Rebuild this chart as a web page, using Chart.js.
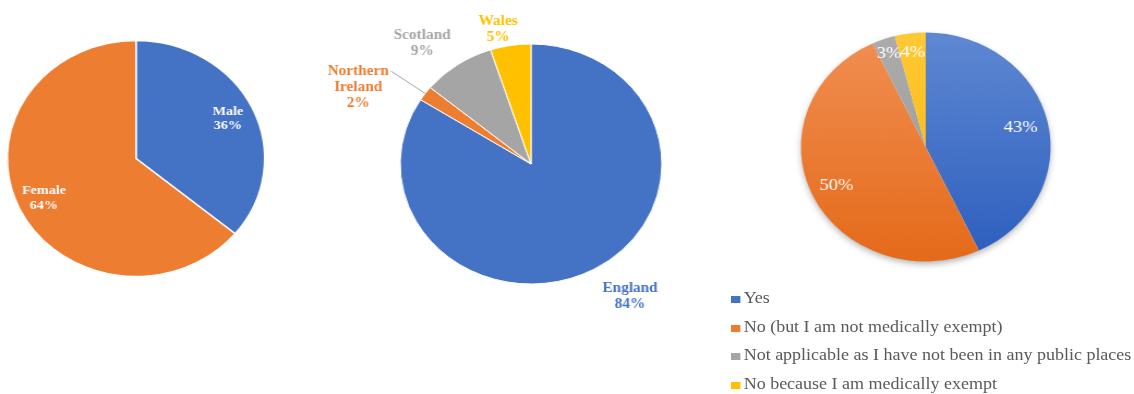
<!DOCTYPE html>
<html>
<head>
<meta charset="utf-8">
<script src="https://cdn.jsdelivr.net/npm/chart.js@4.4.1/dist/chart.umd.min.js"></script>
<style>
  html, body { margin: 0; padding: 0; background: #fff; overflow: hidden; }
  #stage { position: relative; width: 1040px; height: 394px; transform: scaleX(1.0904); transform-origin: 0 0; }
  #stage canvas { position: absolute; left: 0; top: 0; }
  #legend { position: absolute; left: 670px; top: 284px; font-family: "Liberation Serif", "Times New Roman", serif; font-size: 16.5px; color: #595959; }
  #legend div { height: 28.5px; line-height: 28.5px; white-space: nowrap; }
  #legend span { display: inline-block; width: 9px; height: 7px; margin-right: 3px; vertical-align: 0px; }
</style>
</head>
<body>
<div id="stage">
  <canvas id="genderChart" width="1040" height="394"></canvas>
  <canvas id="nationChart" width="1040" height="394"></canvas>
  <canvas id="maskChart" width="1040" height="394"></canvas>
  <div id="legend"></div>
</div>
<script>
const genderLabels = ['Male', 'Female'];
const genderValues = [36, 64];

const nationLabels = ['England', 'Northern Ireland', 'Scotland', 'Wales'];
const nationValues = [84, 2, 9, 5];

const maskLabels = [
  'Yes',
  'No (but I am not medically exempt)',
  'Not applicable as I have not been in any public places',
  'No because I am medically exempt'
];
const maskValues = [43, 50, 3, 4];

const palette = ['#4472C4', '#ED7D31', '#A5A5A5', '#FFC000'];
const gradTop = ['#5f88d2', '#f18f53', '#acacac', '#ffc936'];
const gradBottom = ['#2c5ebe', '#e56a1a', '#979797', '#f4b600'];

const STAGE_W = 1040, STAGE_H = 394;

// pad the chart area so the pie sits centred on (cx, cy)
function centredPadding(cx, cy) {
  return {
    left: cx > STAGE_W / 2 ? 2 * cx - STAGE_W : 0,
    right: cx < STAGE_W / 2 ? STAGE_W - 2 * cx : 0,
    top: cy > STAGE_H / 2 ? 2 * cy - STAGE_H : 0,
    bottom: cy < STAGE_H / 2 ? STAGE_H - 2 * cy : 0
  };
}

const pick = (v, i) => Array.isArray(v) ? v[i] : v;

// percentage (and optional name) labels placed along each slice's mid angle
const sliceLabels = {
  id: 'sliceLabels',
  afterDatasetsDraw(chart, args, opts) {
    const ctx = chart.ctx;
    const meta = chart.getDatasetMeta(0);
    const values = chart.data.datasets[0].data;
    const total = values.reduce((a, b) => a + b, 0);
    ctx.save();
    ctx.font = opts.font;
    ctx.textAlign = 'center';
    ctx.textBaseline = 'middle';
    meta.data.forEach((arc, i) => {
      const { x, y, startAngle, endAngle, outerRadius } = arc.getProps(['x', 'y', 'startAngle', 'endAngle', 'outerRadius'], true);
      const mid = (startAngle + endAngle) / 2;
      const r = outerRadius * pick(opts.radius, i);
      const shift = (opts.shift && opts.shift[i]) || [0, 0];
      const px = x + Math.cos(mid) * r + shift[0];
      const py = y + Math.sin(mid) * r + shift[1];
      const lines = opts.showName ? chart.data.labels[i].split(' ') : [];
      lines.push(Math.round(values[i] / total * 100) + '%');
      const lh = opts.lineHeight;
      const y0 = py - (lines.length - 1) / 2 * lh;
      ctx.fillStyle = pick(opts.color, i);
      lines.forEach((t, k) => ctx.fillText(t, px, y0 + k * lh));
      if (opts.leader && opts.leader[i]) {
        const w = ctx.measureText(lines[0]).width;
        ctx.strokeStyle = '#A5A5A5';
        ctx.lineWidth = 1;
        ctx.beginPath();
        ctx.moveTo(px + w / 2 + 2, y0);
        ctx.lineTo(x + Math.cos(mid) * outerRadius, y + Math.sin(mid) * outerRadius);
        ctx.stroke();
      }
    });
    ctx.restore();
  }
};

// soft drop shadow behind the whole pie
const pieShadow = {
  id: 'pieShadow',
  beforeDatasetsDraw(chart) {
    const arc = chart.getDatasetMeta(0).data[0];
    if (!arc) return;
    const ctx = chart.ctx;
    ctx.save();
    ctx.shadowColor = 'rgba(0, 0, 0, 0.35)';
    ctx.shadowBlur = 7;
    ctx.shadowOffsetY = 3;
    ctx.beginPath();
    ctx.arc(arc.x, arc.y, arc.outerRadius - 1, 0, Math.PI * 2);
    ctx.fillStyle = '#fff';
    ctx.fill();
    ctx.restore();
  }
};

function pieOptions(cx, cy, radius, labelOpts) {
  return {
    responsive: false,
    animation: false,
    events: [],
    radius: radius,
    layout: { padding: centredPadding(cx, cy) },
    plugins: {
      legend: { display: false },
      tooltip: { enabled: false },
      sliceLabels: labelOpts
    }
  };
}

new Chart(document.getElementById('genderChart'), {
  type: 'pie',
  data: {
    labels: genderLabels,
    datasets: [{ data: genderValues, backgroundColor: palette.slice(0, 2), borderColor: '#fff', borderWidth: 1.5, hoverOffset: 0 }]
  },
  options: pieOptions(124.7, 158.5, 118, {
    font: 'bold 13px "Liberation Serif", serif',
    lineHeight: 14.5,
    color: '#fff',
    showName: true,
    radius: 0.79
  }),
  plugins: [sliceLabels]
});

new Chart(document.getElementById('nationChart'), {
  type: 'pie',
  data: {
    labels: nationLabels,
    datasets: [{ data: nationValues, backgroundColor: palette, borderColor: '#fff', borderWidth: 1, hoverOffset: 0 }]
  },
  options: pieOptions(487, 164, 120, {
    font: 'bold 14px "Liberation Serif", serif',
    lineHeight: 16,
    color: palette,
    showName: true,
    radius: 1,
    shift: [[33, 27], [-61.5, -6.5], [-32.4, -21.8], [-11.5, -16.5]],
    leader: [false, true, false, false]
  }),
  plugins: [sliceLabels]
});

new Chart(document.getElementById('maskChart'), {
  type: 'pie',
  data: {
    labels: maskLabels,
    datasets: [{
      data: maskValues,
      backgroundColor: (c) => {
        const area = c.chart.chartArea;
        if (!area) return palette[c.dataIndex];
        const cy = (area.top + area.bottom) / 2;
        const g = c.chart.ctx.createLinearGradient(0, cy - 114.5, 0, cy + 114.5);
        g.addColorStop(0, gradTop[c.dataIndex]);
        g.addColorStop(1, gradBottom[c.dataIndex]);
        return g;
      },
      borderWidth: 0,
      hoverOffset: 0
    }]
  },
  options: pieOptions(849, 147, 114.5, {
    font: '17px "Liberation Serif", serif',
    lineHeight: 18,
    color: '#fff',
    showName: false,
    radius: [0.78, 0.79, 0.87, 0.83]
  }),
  plugins: [pieShadow, sliceLabels]
});

// legend for the third pie
const legend = document.getElementById('legend');
maskLabels.forEach((label, i) => {
  const row = document.createElement('div');
  const box = document.createElement('span');
  box.style.background = palette[i];
  row.appendChild(box);
  row.appendChild(document.createTextNode(label));
  legend.appendChild(row);
});
</script>
</body>
</html>
